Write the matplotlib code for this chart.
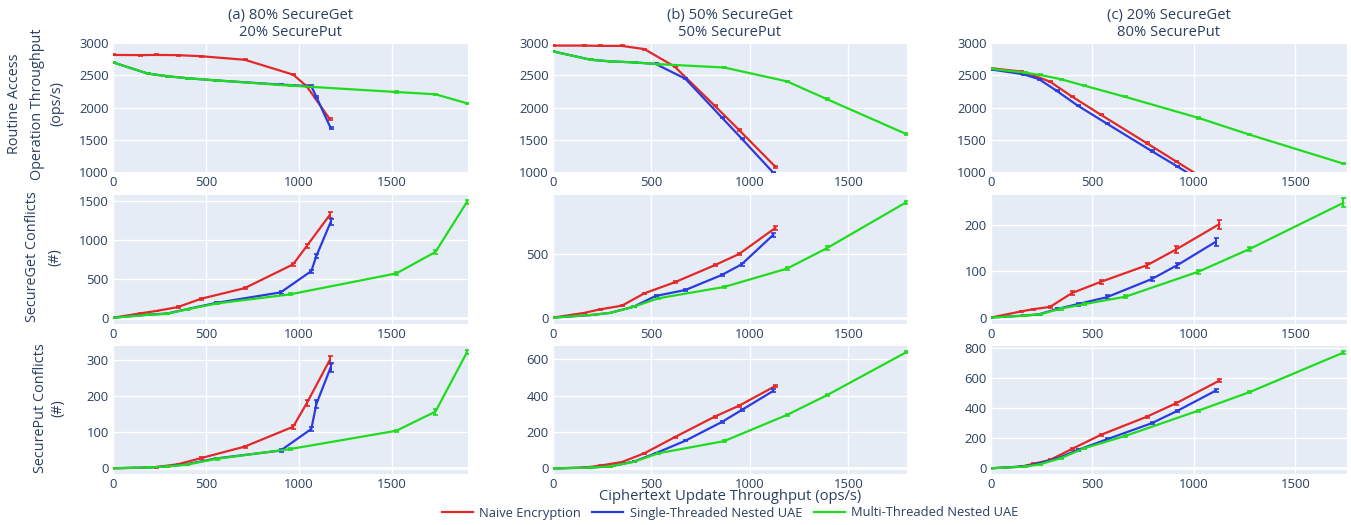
import matplotlib
matplotlib.use('Agg')
import matplotlib.pyplot as plt
from matplotlib.lines import Line2D

plt.rcParams['font.family'] = ['Open Sans', 'DejaVu Sans']

# ---------------- data ----------------
methods = ["Naive Encryption", "Single-Threaded Nested UAE", "Multi-Threaded Nested UAE"]
colors = ["#e32828", "#2a3be0", "#1fdc1f"]
panel_titles = ["(a) 80% SecureGet", "(b) 50% SecureGet", "(c) 20% SecureGet"]
panel_titles2 = ["20% SecurePut", "50% SecurePut", "80% SecurePut"]
row_labels = [["Routine Access", "Operation Throughput", "(ops/s)"],
              ["SecureGet Conflicts", "(#)"],
              ["SecurePut Conflicts", "(#)"]]
x_label = "Ciphertext Update Throughput (ops/s)"

# workload (a)
naive_x_a = [0, 145, 229, 348, 473, 708, 968, 1041, 1165]
naive_tput_a = [2815, 2812, 2815, 2812, 2795, 2740, 2510, 2330, 1820]
naive_get_a = [0, 56, 86, 137, 244, 381, 686, 921, 1320]
naive_put_a = [0, 1, 3, 11, 28, 60, 115, 180, 300]
single_x_a = [0, 188, 292, 396, 552, 901, 1066, 1093, 1170]
single_tput_a = [2700, 2525, 2485, 2455, 2420, 2355, 2330, 2165, 1680]
single_get_a = [0, 40, 55, 110, 190, 326, 600, 793, 1230]
single_put_a = [0, 2, 5, 11, 27, 49, 109, 178, 280]
multi_x_a = [0, 188, 292, 396, 557, 950, 1523, 1733, 1903]
multi_tput_a = [2700, 2525, 2485, 2455, 2420, 2340, 2240, 2205, 2065]
multi_get_a = [0, 38, 51, 107, 184, 300, 570, 845, 1490]
multi_put_a = [0, 2, 5, 10, 26, 53, 104, 157, 322]

# workload (b)
naive_x_b = [0, 158, 239, 350, 464, 617, 820, 945, 1129]
naive_tput_b = [2960, 2960, 2955, 2955, 2905, 2635, 2030, 1650, 1080]
naive_get_b = [0, 37, 65, 94, 191, 277, 411, 500, 705]
naive_put_b = [0, 4, 15, 35, 83, 171, 284, 345, 453]
single_x_b = [0, 192, 289, 410, 521, 672, 857, 958, 1118]
single_tput_b = [2870, 2740, 2715, 2700, 2675, 2446, 1845, 1518, 990]
single_get_b = [0, 20, 37, 86, 170, 217, 335, 419, 650]
single_put_b = [0, 4, 11, 37, 83, 152, 255, 321, 426]
multi_x_b = [0, 192, 289, 407, 535, 869, 1188, 1390, 1792]
multi_tput_b = [2870, 2740, 2715, 2700, 2672, 2620, 2405, 2130, 1590]
multi_get_b = [0, 21, 37, 84, 152, 241, 385, 545, 905]
multi_put_b = [0, 4, 11, 35, 83, 150, 294, 402, 638]

# workload (c)
naive_x_c = [0, 146, 208, 291, 399, 540, 768, 911, 1125]
naive_tput_c = [2610, 2558, 2500, 2400, 2170, 1890, 1446, 1166, 750]
naive_get_c = [0, 13, 18, 23, 53, 77, 113, 147, 202]
naive_put_c = [0, 11, 29, 56, 129, 222, 344, 433, 584]
single_x_c = [0, 160, 236, 323, 427, 571, 791, 917, 1108]
single_tput_c = [2590, 2515, 2440, 2260, 2030, 1750, 1326, 1088, 720]
single_get_c = [0, 4, 7, 18, 29, 44, 83, 113, 164]
single_put_c = [0, 12, 33, 64, 122, 193, 300, 382, 518]
multi_x_c = [0, 167, 241, 343, 458, 662, 1021, 1273, 1736]
multi_tput_c = [2600, 2540, 2505, 2440, 2340, 2165, 1840, 1580, 1130]
multi_get_c = [0, 4, 7, 19, 29, 45, 99, 148, 248]
multi_put_c = [0, 11, 27, 67, 133, 216, 384, 507, 771]

# error bars (half widths)
naive_get_err_a = [0, 5, 5, 8, 10, 15, 20, 25, 35]
single_get_err_a = [0, 5, 5, 8, 10, 15, 20, 25, 40]
multi_get_err_a = [0, 5, 5, 8, 10, 12, 15, 30, 25]
naive_put_err_a = [0, 1, 1, 2, 2, 3, 5, 8, 10]
single_put_err_a = [0, 1, 1, 2, 2, 3, 5, 10, 12]
multi_put_err_a = [0, 1, 1, 2, 2, 3, 3, 8, 6]
naive_get_err_b = [0, 3, 3, 4, 6, 8, 8, 10, 15]
single_get_err_b = [0, 3, 3, 4, 6, 8, 8, 12, 15]
multi_get_err_b = [0, 3, 3, 4, 6, 8, 10, 15, 10]
naive_put_err_b = [0, 1, 1, 2, 3, 4, 5, 6, 8]
single_put_err_b = [0, 1, 1, 2, 3, 4, 5, 6, 8]
multi_put_err_b = [0, 1, 1, 2, 3, 4, 5, 6, 5]
naive_get_err_c = [0, 1, 1, 2, 4, 5, 6, 7, 10]
single_get_err_c = [0, 1, 1, 2, 3, 4, 5, 6, 9]
multi_get_err_c = [0, 1, 1, 2, 2, 3, 4, 4, 10]
naive_put_err_c = [0, 2, 3, 4, 5, 6, 7, 8, 10]
single_put_err_c = [0, 2, 3, 4, 5, 6, 7, 8, 10]
multi_put_err_c = [0, 2, 3, 4, 5, 6, 7, 8, 8]
tput_err = [8, 8, 8, 8, 8, 8, 12, 12, 12]

x_ticks = [0, 500, 1000, 1500]
x_limits = [1908, 1797, 1754]
row1_ticks = [1000, 1500, 2000, 2500, 3000]
row2_ticks = [[0, 500, 1000, 1500], [0, 500], [0, 100, 200]]
row3_ticks = [[0, 100, 200, 300], [0, 200, 400, 600], [0, 200, 400, 600, 800]]
row1_lim = (1000, 3000)
row2_lims = [(-80, 1577), (-50, 963), (-14, 265)]
row3_lims = [(-16, 339), (-31, 673), (-38, 815)]

panels = [
    dict(x=[naive_x_a, single_x_a, multi_x_a],
         rows=[[naive_tput_a, single_tput_a, multi_tput_a],
               [naive_get_a, single_get_a, multi_get_a],
               [naive_put_a, single_put_a, multi_put_a]],
         errs=[[tput_err, tput_err, tput_err],
               [naive_get_err_a, single_get_err_a, multi_get_err_a],
               [naive_put_err_a, single_put_err_a, multi_put_err_a]]),
    dict(x=[naive_x_b, single_x_b, multi_x_b],
         rows=[[naive_tput_b, single_tput_b, multi_tput_b],
               [naive_get_b, single_get_b, multi_get_b],
               [naive_put_b, single_put_b, multi_put_b]],
         errs=[[tput_err, tput_err, tput_err],
               [naive_get_err_b, single_get_err_b, multi_get_err_b],
               [naive_put_err_b, single_put_err_b, multi_put_err_b]]),
    dict(x=[naive_x_c, single_x_c, multi_x_c],
         rows=[[naive_tput_c, single_tput_c, multi_tput_c],
               [naive_get_c, single_get_c, multi_get_c],
               [naive_put_c, single_put_c, multi_put_c]],
         errs=[[tput_err, tput_err, tput_err],
               [naive_get_err_c, single_get_err_c, multi_get_err_c],
               [naive_put_err_c, single_put_err_c, multi_put_err_c]]),
]

# ---------------- layout ----------------
W, H = 1351, 525
fig = plt.figure(figsize=(W / 100, H / 100), dpi=100)
TXT = "#2a3f5f"
BG = "#E5ECF6"
col_px = [(113, 468), (553, 907), (991, 1347)]
row_px = [(43, 172), (195, 324), (346, 474)]

for ci, panel in enumerate(panels):
    x0, x1 = col_px[ci]
    for ri in range(3):
        y0, y1 = row_px[ri]
        ax = fig.add_axes([x0 / W, 1 - y1 / H, (x1 - x0) / W, (y1 - y0) / H])
        ax.set_facecolor(BG)
        for s in ax.spines.values():
            s.set_visible(False)
        ax.set_axisbelow(True)
        ax.grid(True, color="white", lw=1.0)
        ax.tick_params(length=0, labelsize=9.4, labelcolor=TXT, pad=3)
        ax.set_xlim(0, x_limits[ci])
        ax.set_xticks(x_ticks)
        if ri == 0:
            ax.set_ylim(*row1_lim)
            ax.set_yticks(row1_ticks)
        elif ri == 1:
            ax.set_ylim(*row2_lims[ci])
            ax.set_yticks(row2_ticks[ci])
            ax.axhline(0, color="white", lw=2, zorder=1)
        else:
            ax.set_ylim(*row3_lims[ci])
            ax.set_yticks(row3_ticks[ci])
            ax.axhline(0, color="white", lw=2, zorder=1)
        for mi in range(3):
            ax.errorbar(panel["x"][mi], panel["rows"][ri][mi], yerr=panel["errs"][ri][mi],
                        color=colors[mi], lw=1.6, elinewidth=1.4, capsize=1.8,
                        capthick=1.2, zorder=3 + mi)
    cx = (x0 + x1) / 2 / W
    fig.text(cx, 1 - 16 / H, panel_titles[ci], ha="center", va="center",
             fontsize=10.6, color=TXT)
    fig.text(cx, 1 - 33 / H, panel_titles2[ci], ha="center", va="center",
             fontsize=10.6, color=TXT)

# y labels
label_pos = [([15, 38, 57], 104), ([33, 55], 257), ([40, 58], 408)]
for ri, (xs, yc) in enumerate(label_pos):
    for txt, xp in zip(row_labels[ri], xs):
        fig.text(xp / W, 1 - yc / H, txt, rotation=90, ha="center", va="center",
                 fontsize=10.4, color=TXT)

fig.text(730 / W, 1 - 497 / H, x_label, ha="center", va="center", fontsize=10.6, color=TXT)

handles = [Line2D([0], [0], color=c, lw=1.6) for c in colors]
fig.legend(handles, methods, loc="center", bbox_to_anchor=(730 / W, 1 - 513 / H),
           ncol=3, frameon=False, fontsize=9.3, handlelength=2.4, handletextpad=0.5,
           columnspacing=0.9, labelcolor=TXT, borderaxespad=0, borderpad=0)

fig.savefig("out.png", dpi=100)
